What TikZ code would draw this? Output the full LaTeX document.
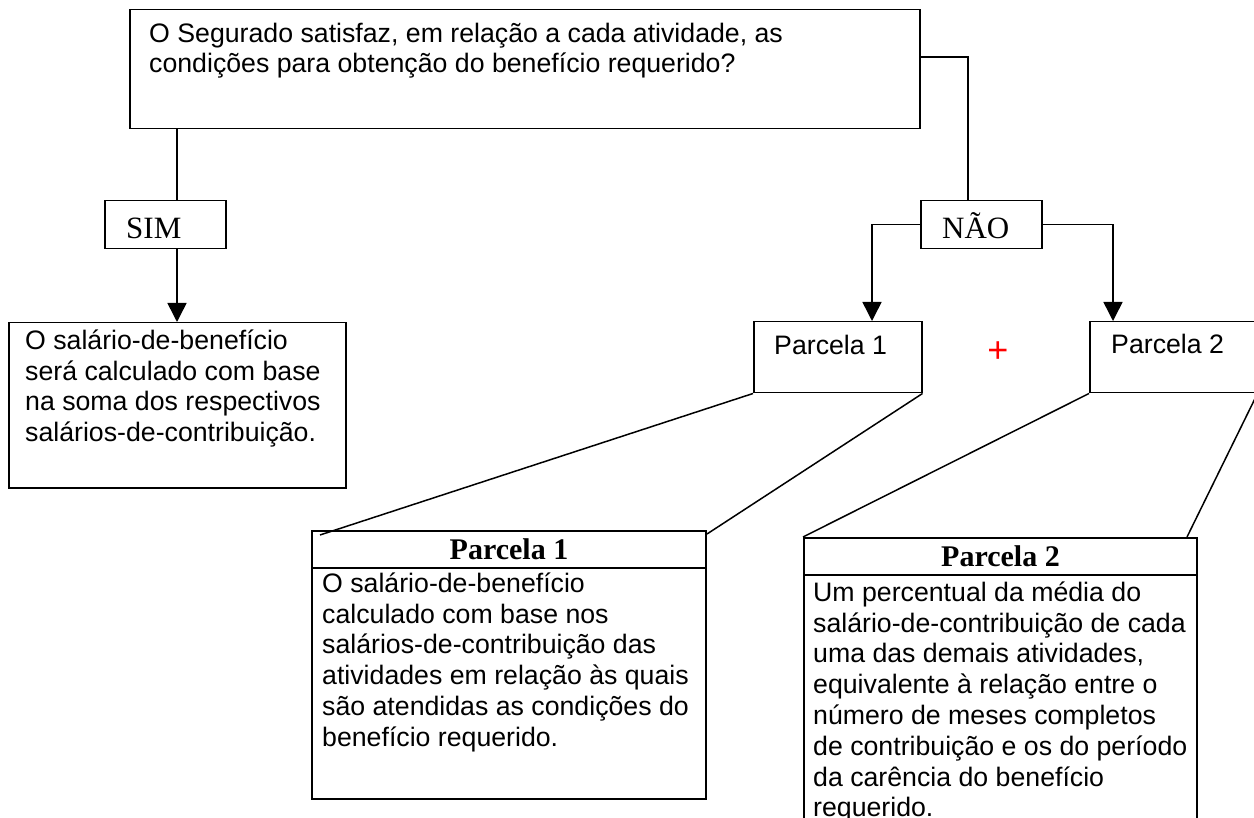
\documentclass[tikz,border=0pt]{standalone}
\usepackage{fontspec}
\setmainfont{Liberation Sans}
\newfontfamily\serifa{Liberation Serif}
\usetikzlibrary{arrows.meta}

\newcommand{\corpo}{\fontsize{26.7}{30.8}\selectfont}
\newcommand{\alto}{\rule{0pt}{22pt}}

\tikzset{
		caixa/.style={
			draw, line width=1.5pt, inner sep=0pt, anchor=north west},
		quadro/.style={caixa, line width=2pt},
		texto/.style={inner sep=0pt, align=left, font=\corpo, anchor=north west},
		rotulo/.style={inner sep=0pt, font=\corpo, anchor=base west},
		opcao/.style={inner sep=0pt, font=\serifa\fontsize{31}{36}\selectfont, anchor=base west},
		titulo/.style={font=\serifa\bfseries\fontsize{30}{34}\selectfont},
		liga/.style={draw, line width=1.5pt},
		seta/.style={liga, -{Triangle[length=19pt, width=19pt]}},
	}

\begin{document}
\begin{tikzpicture}[x=1pt, y=-1pt]
			\useasboundingbox (0,0) rectangle (1254,818);
			\clip (0,0) rectangle (1254,818);
			\node[caixa, minimum width=790pt, minimum height=119pt] (pergunta) at (129,9) {};
			\node[caixa, minimum width=121pt, minimum height=48pt] (sim) at (104,200) {};
			\node[caixa, minimum width=121pt, minimum height=48pt] (nao) at (920,200) {};
			\node[caixa, minimum width=337pt, minimum height=165pt] (resultado) at (8,322) {};
			\node[caixa, minimum width=168pt, minimum height=71pt] (parcela1) at (753,321) {};
			\node[caixa, minimum width=167pt, minimum height=71pt] (parcela2) at (1089,321) {};
			\node[quadro, titulo, minimum width=394pt, minimum height=37pt] (titulo1) at (311,530) {Parcela 1};
			\node[quadro, minimum width=394pt, minimum height=231pt] (quadro1) at (311,567) {};
			\node[quadro, titulo, minimum width=393pt, minimum height=37pt] (titulo2) at (803,537) {Parcela 2};
			\node[quadro, minimum width=393pt, minimum height=260pt] (quadro2) at (803,574) {};
			\node[texto] (t-pergunta) at (149,20) {\alto O Segurado satisfaz, em relação a cada atividade, as\\
				condições para obtenção do benefício requerido?};
			\node[opcao] (t-sim) at (126,239) {SIM};
			\node[opcao] (t-nao) at (942,239) {NÃO};
			\node[texto] (t-resultado) at (25,327) {\alto O salário-de-benefício\\ será calculado com base\\
				na soma dos respectivos\\ salários-de-contribuição.};
			\node[rotulo] (t-parcela1) at (774,355) {Parcela 1};
			\node[rotulo] (t-parcela2) at (1111,354) {Parcela 2};
			\node[text=red, inner sep=0pt, font=\fontsize{36}{40}\selectfont] (mais) at (998,352) {+};
			\node[texto] (t-quadro1) at (322,570) {\alto O salário-de-benefício\\ calculado com base nos\\
				salários-de-contribuição das\\ atividades em relação às quais\\
				são atendidas as condições do\\ benefício requerido.};
			\node[texto] (t-quadro2) at (813,579) {\alto Um percentual da média do\\
				salário-de-contribuição de cada\\ uma das demais atividades,\\
				equivalente à relação entre o\\ número de meses completos\\
				de contribuição e os do período\\ da carência do benefício\\ requerido.};
			\draw[liga] ([xshift=48pt]pergunta.south west) -- ([xshift=73pt]sim.north west);
			\draw[seta] ([xshift=73pt]sim.south west) -- ([xshift=73pt]sim.south west |- resultado.north);
			\draw[liga] ([yshift=-48pt]pergunta.north east) -| ([xshift=48pt]nao.north west);
			\draw[seta] (nao.west) -| ([xshift=119pt]parcela1.north west);
			\draw[seta] (nao.east) -| ([xshift=24pt]parcela2.north west);
			\draw[liga] (parcela1.south west) -- ([xshift=9pt, yshift=-5pt]titulo1.north west);
			\draw[liga] (parcela1.south east) -- ([yshift=-4pt]titulo1.north east);
			\draw[liga] (parcela2.south west) -- (titulo2.north west);
			\draw[liga] (parcela2.south east) -- ([xshift=-11pt]titulo2.north east);
			\end{tikzpicture}
\end{document}
